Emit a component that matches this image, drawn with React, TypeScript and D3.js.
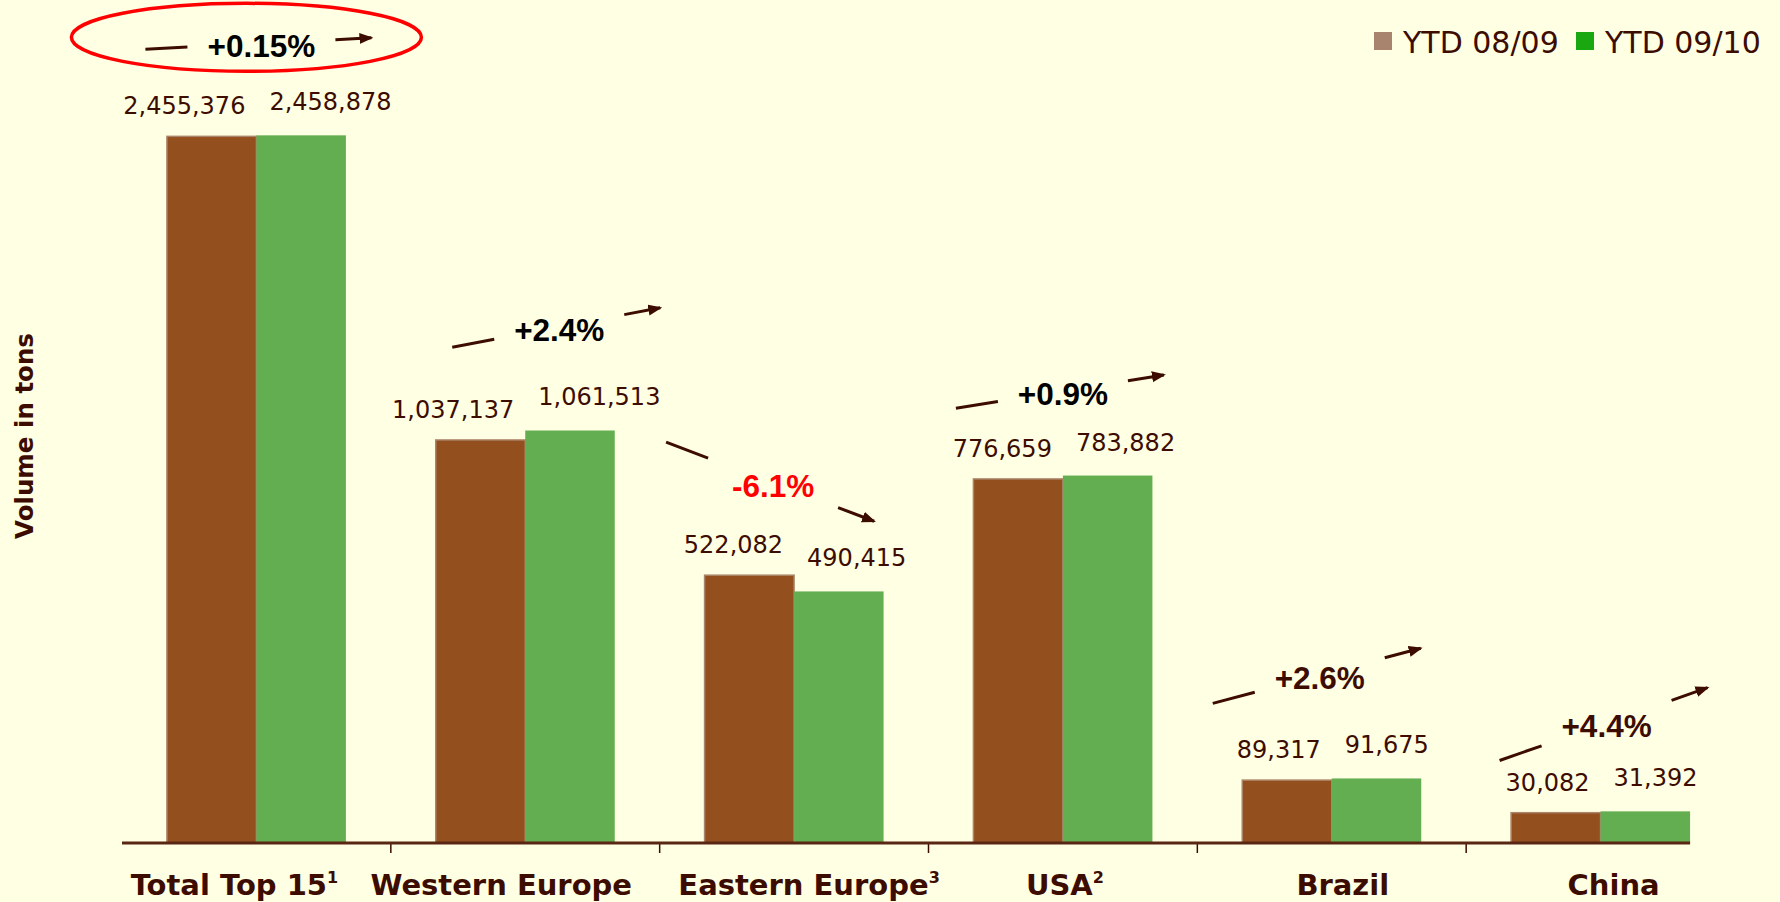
import * as d3 from "d3"
import React from "react"

// volumes in tons, year to date
const groups = ["Total Top 15", "Western Europe", "Eastern Europe", "USA", "Brazil", "China"]
const footnotes = ["1", "", "3", "2", "", ""]
const ytd0809 = [2455376, 1037137, 522082, 776659, 89317, 30082]
const ytd0910 = [2458878, 1061513, 490415, 783882, 91675, 31392]
const changeLabels = ["+0.15%", "+2.4%", "-6.1%", "+0.9%", "+2.6%", "+4.4%"]
const seriesNames = ["YTD 08/09", "YTD 09/10"]

// each region is drawn on its own scale (value reaching the full plot height)
const groupScaleMax = [2606000, 1930000, 1462000, 1600000, 1065000, 744000]

// annotation layout tweaks
const noteColor = ["#000", "#000", "#ff0000", "#000", "#3d0c00", "#3d0c00"]
const noteDx = [5, 34, -21, 0, -12, 6]
const noteDy = [2, -9.5, 1.7, 9.5, -9.4, 5.7]
const noteSlope = [-0.05, -0.19, 0.38, -0.16, -0.265, -0.35]
const labelShift = [-22, -24, 15, 2, 11, 13]

const ink = "#3d0c00"
const brown = "#944f1e"
const green = "#64ae52"
const legendColors = ["#a8846f", "#1aa810"]

export default () => {
  const W = 1780, H = 902
  const baseY = 843, plotH = 750
  const barW = 89.5
  const x = d3.scaleBand().domain(groups).range([122, 1735])
  const bw = x.bandwidth()
  const cx = (g) => x(g) + bw / 2
  const yFor = (i) => d3.scaleLinear().domain([0, groupScaleMax[i]]).range([baseY, baseY - plotH])
  const lastRight = cx(groups[groups.length - 1]) + barW

  return (
    <svg width={W} height={H} style={{ position: "fixed", left: 0, top: 0, background: "#ffffe3" }}>
      <defs>
        <marker id="head" markerUnits="userSpaceOnUse" markerWidth={16} markerHeight={12}
          refX={12} refY={5.5} orient="auto">
          <path d="M0,0 L14,5.5 L0,11 z" fill={ink} />
        </marker>
      </defs>
      <rect width={W} height={H} fill="#ffffe3" />

      {/* legend */}
      {seriesNames.map((s, i) => (
        <g key={s} transform={`translate(${1374 + i * 202},0)`}>
          <rect x={0} y={32} width={18} height={18} fill={legendColors[i]} />
          <text x={29} y={53} fontFamily="DejaVu Sans" fontSize={30} fill={ink}>{s}</text>
        </g>
      ))}

      {/* y label */}
      <text transform="translate(33,436) rotate(-90)" textAnchor="middle"
        fontFamily="DejaVu Sans" fontWeight="bold" fontSize={24.5} fill={ink}>Volume in tons</text>

      {groups.map((g, i) => {
        const y = yFor(i)
        const c = cx(g)
        const v0 = ytd0809[i], v1 = ytd0910[i]
        const top = Math.min(y(v0), y(v1))
        const label = changeLabels[i]
        const tx = c + noteDx[i]
        const ty = top - 80 + noteDy[i]
        const half = label.length * 9
        const yc = ty - 14
        const s = noteSlope[i]
        const l0 = -half - 20 - 42, l1 = -half - 20
        const a0 = half + 20, a1 = half + 20 + 36
        return (
          <g key={g}>
            <rect x={c - barW} y={y(v0)} width={barW} height={baseY - y(v0)}
              fill={brown} stroke="#ab8569" strokeWidth={1.5} />
            <rect x={c} y={y(v1)} width={barW} height={baseY - y(v1)} fill={green} />
            <text x={c - 11} y={y(v0) - 22} textAnchor="end" fontFamily="DejaVu Sans"
              fontSize={24} fill={ink}>{d3.format(",")(v0)}</text>
            <text x={c + 13} y={y(v1) - 25} textAnchor="start" fontFamily="DejaVu Sans"
              fontSize={24} fill={ink}>{d3.format(",")(v1)}</text>

            <text x={tx} y={ty} textAnchor="middle" fontFamily="Liberation Sans"
              fontWeight="bold" fontSize={31.5} fill={noteColor[i]}>{label}</text>
            <line x1={tx + l0} y1={yc + s * l0} x2={tx + l1} y2={yc + s * l1}
              stroke={ink} strokeWidth={3} />
            <line x1={tx + a0} y1={yc + s * a0} x2={tx + a1} y2={yc + s * a1}
              stroke={ink} strokeWidth={3} markerEnd="url(#head)" />
            {i === 0 && (
              <ellipse cx={tx - 15} cy={ty - 20} rx={175} ry={34} fill="none"
                stroke="#ff0000" strokeWidth={3.5} />
            )}

            <text x={c + labelShift[i]} y={895} textAnchor="middle" fontFamily="DejaVu Sans"
              fontWeight="bold" fontSize={29} fill={ink}>
              {g}
              {footnotes[i] && <tspan dy={-12} fontSize={16}>{footnotes[i]}</tspan>}
            </text>
            {i > 0 && (
              <line x1={x(g)} x2={x(g)} y1={baseY} y2={baseY + 10} stroke={ink} strokeWidth={1.5} />
            )}
          </g>
        )
      })}

      <line x1={x.range()[0]} x2={lastRight} y1={baseY} y2={baseY} stroke="#5a2614" strokeWidth={3} />
    </svg>
  )
}
